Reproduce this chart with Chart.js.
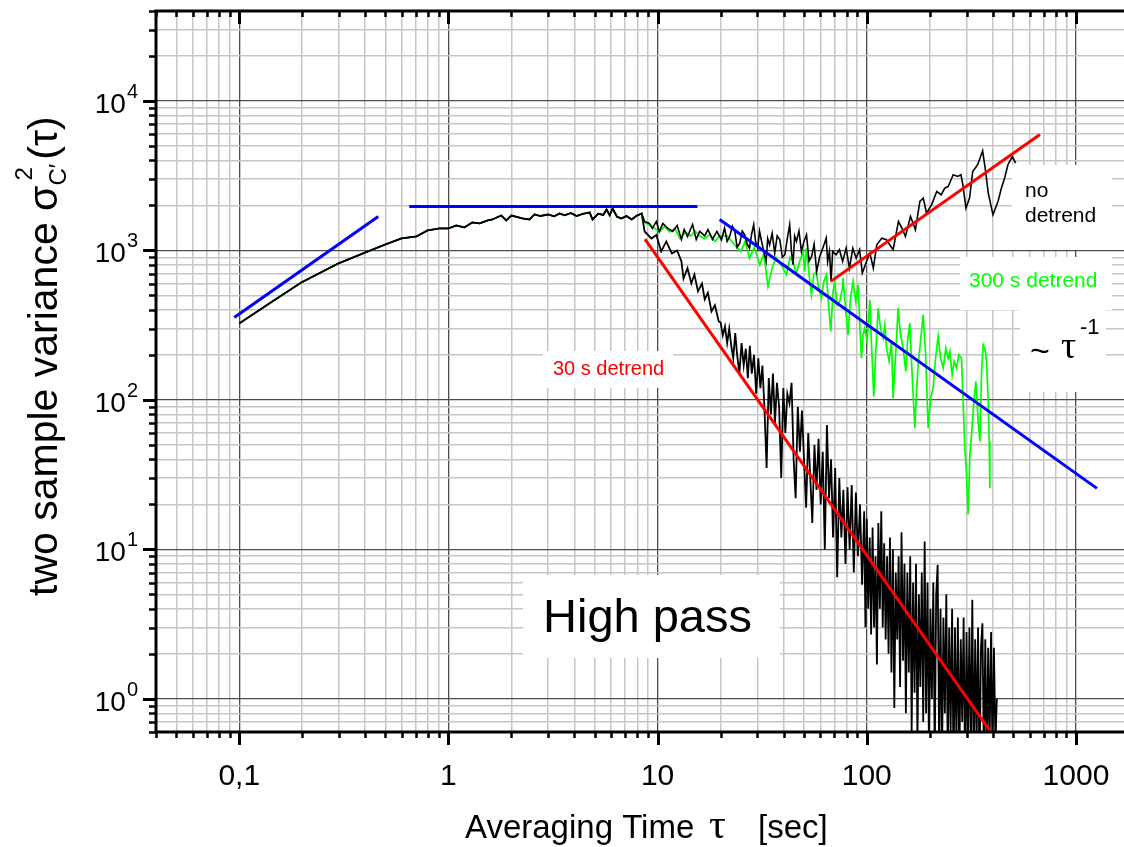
<!DOCTYPE html>
<html>
<head>
<meta charset="utf-8">
<script src="https://cdn.jsdelivr.net/npm/chart.js@4.4.1/dist/chart.umd.min.js"></script>
<style>
html,body{margin:0;padding:0;background:#fff;overflow:hidden;}
#wrap{width:1124px;height:847px;position:relative;}
</style>
</head>
<body>
<div id="wrap"><canvas id="c" width="1124" height="847"></canvas></div>
<script>
// ---------- DATA (tau in s, two-sample variance) ----------
// common part shared by all three curves
const tauCommon = [0.1,0.144,0.198,0.298,0.401,0.5,0.596,0.703,0.794,0.906,1.0,1.09,1.19,1.30,1.41,1.54,1.62,1.79,1.89,2.0,2.26,2.44,2.58,2.75,3.0,3.2,3.4,3.6,3.85,4.1,4.4,4.73,4.89,5.2,5.5,5.7,5.9,6.09,6.4,6.71,7.1,7.52,7.9,8.39];
const varCommon = [325,456,611,819,970,1097,1203,1240,1361,1403,1403,1469,1426,1539,1516,1588,1611,1713,1588,1713,1637,1611,1741,1700,1740,1690,1766,1720,1780,1700,1760,1795,1611,1760,1730,1880,1720,1909,1680,1637,1700,1611,1700,1766];

// "no detrend" continuation
const tauNoDetrend = [8.67,9.14,9.44,9.86,10.2,10.6,11.2,11.8,12.4,13.0,13.4,13.9,14.7,15.3,15.9,16.8,17.4,18.3,19.2,20.2,20.9,21.5,22.1,22.8,23.4,24.0,24.7,25.4,26.1,26.8,27.5,28.2,28.8,29.4,30.1,30.7,31.3,32.1,33.0,33.6,34.3,35.3,36.3,37.3,38.4,39.5,40.6,41.7,42.8,43.6,44.4,45.2,46.1,47.4,48.7,50.1,51.5,53.0,54.5,56.0,57.6,59.6,61.6,64.0,65.0,66.3,67.5,68.7,71.3,74.0,76.7,79.7,82.6,85.8,89.0,92.4,95.2,99.7,103.5,107.5,111.6,118,124,133.7,141.7,147.3,153,161.8,170.8,179.4,186.3,193,204,216,227,236,245,259,272,282,288,298,310,321,339,358,370,381,401,424,440,456,473,496,515];
const varNoDetrend = [1563,1516,1403,1563,1340,1516,1403,1340,1470,1185,1381,1240,1493,1185,1340,1250,1381,1185,1340,1179,1410,1150,1240,1450,1340,1050,1119,1350,1273,1100,1036,1300,1486,1150,1036,1350,1179,1000,844,1200,1091,1300,959,1250,1179,900,936,1200,1486,1000,802,1250,1149,1350,985,1150,1273,850,912,1100,724,912,1036,1209,844,985,621,985,936,1011,844,1036,761,1036,888,1011,705,844,959,761,1091,1209,1179,1011,1563,1410,1240,1688,1375,2127,2240,1776,2020,2480,2360,2610,2680,3210,3125,3210,2750,1919,2240,3375,3745,4640,3375,2420,1732,2127,2610,3050,3745,4250,3835];

// "300 s detrend" continuation
const tau300 = [8.67,9.14,9.6,10.2,10.8,11.4,12.1,12.8,13.6,14.4,15.1,15.9,16.8,17.8,18.8,19.8,21.5,23.7,25.0,26.2,27.5,29.0,30.8,32.2,33.7,35.3,36.8,38.5,40.0,41.3,43.0,44.4,46.0,47.8,49.6,50.5,51.5,53.0,54.4,55.8,57.4,58.5,60.7,62.3,64.2,65.8,67.3,69.0,70.3,72.1,74.3,76.5,77.0,79.4,81.4,83.6,86.0,88.6,90.9,92.6,94.3,96.0,97.8,100.3,103.4,105.7,108.0,110.4,113.3,116.3,119.7,122.0,124.3,127.9,131.3,133.6,137.7,141.2,145.0,149.2,153.7,156.6,160.6,164.2,167.9,169.7,172.9,176.0,180.7,186.0,190.9,196.5,201.8,207.6,213.2,219.4,225.3,231.8,238.8,244.9,249.5,255.9,261.6,268.6,275.5,283.8,288.9,294.3,299.9,305.3,311.1,316.9,325.1,332.3,340.8,347.3,353.9,360.2,367.0,373.9,380.6,384.8,387.7];
const var300 = [1540,1480,1420,1330,1450,1330,1400,1200,1330,1250,1350,1250,1200,1280,1150,1250,1250,1064,985,1150,888,1050,802,950,574,761,900,823,750,688,900,844,700,844,985,724,1037,688,505,688,724,589,480,620,688,411,287,532,620,433,456,560,653,391,273,480,620,456,589,318,190,273,302,246,468,211,105.5,211,411,302,259,318,222,181,246,102.8,211,411,273,222,155,246,327,163,88,64.8,114,172,246,371,211,64.8,102.8,120,190,266,190,163,222,190,211,147,181,163,201,190,97.7,47.6,31.6,17.1,43.0,58.5,97.7,133,71.8,52.8,155,234,222,181,97.7,52.8,25.7];

// "30 s detrend" continuation
const tau30 = [8.67,9.34,9.86,10.4,11.0,11.7,12.4,13.0,13.3,13.9,14.5,15.0,15.6,16.3,16.8,17.4,18.1,18.8,19.6,20,20.5,21,21.5,22,22.5,23,23.5,24,24.6,25.2,25.8,26.4,27,27.6,28.2,28.9,29.6,30.3,31,31.7,32.4,33.2,34,34.8,35.6,36.4,37.2,38.1,39,39.9,40.8,41.7,42.7,43.7,44.7,45.7,46.8,47.9,49,50.1,51.3,52.5,53.7,54.9,56.2,57.5,58.8,60.2,61.6,63,64.5,66,67.5,69,70.6,72.2,73.9,75.6,77.3,79.1,80.9,82.8,84.7,86.7,88.7,90.7,92.8,95,97.2,98.5,
  100,101.6,103.3,104.9,106.6,108.3,110.1,111.8,113.6,115.5,117.3,119.2,121.1,123.1,125.1,127.1,129.1,131.2,133.3,135.4,137.6,139.8,142.0,144.3,146.6,149.0,151.4,153.8,156.3,158.8,161.3,163.9,166.5,169.2,171.9,174.7,177.5,180.3,183.2,186.1,189.1,192.1,195.2,198.3,201.5,204.7,208.0,211.3,214.7,218.2,221.7,225.2,228.8,232.5,236.2,240.0,243.9,247.8,251.7,255.8,259.9,264.0,268.3,272.6,276.9,281.4,285.9,290.4,295.1,299.8,304.6,309.5,314.5,319.5,324.6,329.8,335.1,340.5,345.9,351.5,357.1,362.8,368.6,374.5,380.5,386.6,392.8,399.1,405.5,412.0,418.6];
const var30 = [1340,1203,1270,985,1148,955,1000,844,649,760,602,690,532,600,470,520,391,430,335,330,270,310,240,300,230,190,280,200,150,240,170,220,140,230,150,200,110,190,120,170,90,35,140,80,150,70,130,90,30,120,60,110,95,130,40,22,90,45,85,40,19,60,30,15,50,25,55,20,45,10,68,22,40,12,35,6.5,30,12,25,8,26,10,27,7,24,9,20,5.8,18,3,
  16,4,12,2.7,14,3,9,1.7,15,4,18,3,11,2.5,9,2,12,1.5,10,0.87,7,2.5,9,1.2,13,1.8,8,0.8,7,1.5,9,0.6,6,1.1,8,0.5,5,1.2,7,0.7,11.3,0.8,6,0.45,4,1.0,6,0.4,5,7.9,0.5,4,0.35,3.5,0.8,5,0.4,3,0.6,4,0.3,3,0.5,3.5,0.35,2.5,0.7,3.5,0.3,2.8,0.5,3,0.4,4.6,0.35,2.5,0.5,3,0.3,2.2,3.2,0.4,2.5,0.35,2.2,0.5,2.8,0.4,2.2,0.5,1.0];

// fitted power-law guide lines (endpoints)
const fitBlueRiseTau = [0.0946,0.462];   const fitBlueRiseVar = [356,1688];
const fitBlueFlatTau = [0.65,15.5];      const fitBlueFlatVar = [1970,1970];
const fitBlueFallTau = [19.8,1260];      const fitBlueFallVar = [1611,25.6];
const fitRed30Tau    = [8.7,395];        const fitRed30Var    = [1190,0.59];
const fitRedNoTau    = [67.3,673];       const fitRedNoVar    = [621,5970];

// axis ticks
const xMajorTicks = [0.1,1,10,100,1000];
const xTickLabels = ['0,1','1','10','100','1000'];
const yMajorTicks = [1,10,100,1000,10000];
const yTickExps   = ['0','1','2','3','4'];
const X_MIN = 0.04, X_MAX = 1697, Y_MIN = 0.6, Y_MAX = 40000;

// ---------- helpers ----------
function pts(t, v){ return t.map((x,i)=>({x:x, y:v[i]})); }
function minorValues(min, max){
  const out=[];
  for(let e=-3;e<=6;e++){
    for(let m=1;m<=9;m++){
      const v = parseFloat((m*Math.pow(10,e)).toPrecision(6));
      if(v>=min*0.9999 && v<=max*1.0001) out.push(v);
    }
  }
  return out;
}
function isMajor(v){ const l=Math.log10(v); return Math.abs(l-Math.round(l))<1e-6; }

const SANS = '"Liberation Sans", Arial, sans-serif';

const decor = {
  id:'decor',
  beforeDatasetsDraw(chart){
    const ctx = chart.ctx;
    ctx.save();
    ctx.fillStyle = '#fff';
    const boxes = [[523,575,257,83],[543,351,130,37],[960,257,152,53],[1012,165,100,85],[1020,310,86,82]];
    boxes.forEach(b=>ctx.fillRect(b[0],b[1],b[2],b[3]));
    ctx.restore();
  },
  afterDatasetsDraw(chart){
    const ctx = chart.ctx, xs = chart.scales.x, ys = chart.scales.y, a = chart.chartArea;
    ctx.save();
    ctx.strokeStyle = '#000'; ctx.fillStyle = '#000';
    // axis lines
    ctx.lineWidth = 3;
    ctx.beginPath();
    ctx.moveTo(a.left, a.top); ctx.lineTo(a.right+5, a.top);
    ctx.moveTo(a.left, a.top-1.5); ctx.lineTo(a.left, a.bottom+1.5);
    ctx.moveTo(a.left-1.5, a.bottom); ctx.lineTo(a.right+5, a.bottom);
    ctx.stroke();
    // x ticks (top inward, bottom outward)
    minorValues(X_MIN, X_MAX).forEach(v=>{
      const px = Math.round(xs.getPixelForValue(v))+0.5;
      const maj = isMajor(v);
      ctx.lineWidth = maj ? 3 : 2.5;
      ctx.beginPath();
      ctx.moveTo(px, a.top); ctx.lineTo(px, a.top + (maj?13:6));
      ctx.moveTo(px, a.bottom); ctx.lineTo(px, a.bottom + (maj?13:6));
      ctx.stroke();
    });
    // y ticks (left outward)
    minorValues(Y_MIN, Y_MAX).forEach(v=>{
      const py = Math.round(ys.getPixelForValue(v))+0.5;
      const maj = isMajor(v);
      ctx.lineWidth = maj ? 3 : 2.5;
      ctx.beginPath();
      ctx.moveTo(a.left, py); ctx.lineTo(a.left - (maj?13:7), py);
      ctx.stroke();
    });
    // x tick labels
    ctx.font = '30px ' + SANS; ctx.textAlign = 'center'; ctx.textBaseline = 'alphabetic';
    xMajorTicks.forEach((v,i)=>{ ctx.fillText(xTickLabels[i], xs.getPixelForValue(v), 785); });
    // y tick labels 10^n
    yMajorTicks.forEach((v,i)=>{
      const py = ys.getPixelForValue(v);
      ctx.font = '20px ' + SANS; ctx.textAlign='left';
      const ew = ctx.measureText(yTickExps[i]).width;
      const right = 138;
      ctx.fillText(yTickExps[i], right-ew, py-3);
      ctx.font = '28px ' + SANS; ctx.textAlign='right';
      ctx.fillText('10', right-ew-1, py+12);
    });
    // x title
    ctx.textAlign='left';
    ctx.font = '33px ' + SANS;
    ctx.fillText('Averaging Time', 465, 838);
    ctx.font = '42px "Liberation Serif", serif';
    ctx.fillText('τ', 709, 838);
    ctx.font = '33px ' + SANS;
    ctx.fillText('[sec]', 758, 838);
    // y title
    ctx.save();
    ctx.translate(57, 596); ctx.rotate(-Math.PI/2);
    ctx.font = '41px ' + SANS; ctx.textAlign='left';
    let w = 0;
    const t1 = 'two sample variance ';
    ctx.fillText(t1, 0, 0); w += ctx.measureText(t1).width;
    ctx.fillText('σ', w, 0); w += ctx.measureText('σ').width;
    ctx.font = '24px ' + SANS;
    ctx.fillText('C′', w, 9);
    ctx.fillText('2', w+5, -25);
    w += ctx.measureText('C′').width + 4;
    ctx.font = '41px ' + SANS;
    ctx.fillText('(τ)', w, 0);
    ctx.restore();
    // annotations
    ctx.fillStyle = '#000'; ctx.font = '47px ' + SANS;
    ctx.fillText('High pass', 543, 632);
    ctx.fillStyle = '#ff0000'; ctx.font = '20px ' + SANS;
    ctx.fillText('30 s detrend', 553, 375);
    ctx.fillStyle = '#00ff00'; ctx.font = '21px ' + SANS;
    ctx.fillText('300 s detrend', 969, 287);
    ctx.fillStyle = '#000'; ctx.font = '21px ' + SANS;
    ctx.fillText('no', 1025, 197);
    ctx.fillText('detrend', 1025, 222);
    ctx.font = '34px ' + SANS;
    ctx.fillText('~', 1030, 362);
    ctx.font = '38px "Liberation Serif", serif';
    ctx.fillText('τ', 1061, 358);
    ctx.font = '22px ' + SANS;
    ctx.fillText('-1', 1080, 334);
    ctx.restore();
  }
};

const lineDs = (label, data, color, width, order) => ({
  label, data, borderColor: color, backgroundColor: color, borderWidth: width,
  pointRadius: 0, tension: 0, fill: false, order
});

const chart = new Chart(document.getElementById('c'), {
  type: 'line',
  data: {
    datasets: [
      lineDs('fit rise', pts(fitBlueRiseTau, fitBlueRiseVar), '#0000ff', 3, 0),
      lineDs('fit flat', pts(fitBlueFlatTau, fitBlueFlatVar), '#0000ff', 3, 0),
      lineDs('fit tau^-1', pts(fitBlueFallTau, fitBlueFallVar), '#0000ff', 3, 0),
      lineDs('fit 30 s', pts(fitRed30Tau, fitRed30Var), '#ff0000', 3, 0),
      lineDs('fit no detrend', pts(fitRedNoTau, fitRedNoVar), '#ff0000', 3, 0),
      lineDs('no detrend', pts(tauCommon.concat(tauNoDetrend), varCommon.concat(varNoDetrend)), '#000000', 1.6, 1),
      lineDs('30 s detrend', pts(tauCommon.concat(tau30), varCommon.concat(var30)), '#000000', 1.8, 2),
      lineDs('300 s detrend', pts(tauCommon.concat(tau300), varCommon.concat(var300)), '#00ff00', 1.7, 3)
    ]
  },
  options: {
    responsive: false,
    animation: false,
    devicePixelRatio: 1,
    layout: { padding: { top: 11, right: 0, left: 0, bottom: 0 } },
    plugins: { legend: { display: false }, tooltip: { enabled: false } },
    scales: {
      x: {
        type: 'logarithmic', min: X_MIN, max: X_MAX,
        afterBuildTicks: s => { s.ticks = minorValues(X_MIN, X_MAX).map(v=>({value:v})); },
        afterFit: s => { s.height = 115; },
        ticks: { display: false },
        border: { display: false },
        grid: {
          drawTicks: false,
          color: c => isMajor(c.tick.value) ? '#4d4d4d' : '#c6c6c6',
          lineWidth: c => isMajor(c.tick.value) ? 1.3 : 1.5
        }
      },
      y: {
        type: 'logarithmic', min: Y_MIN, max: Y_MAX,
        afterBuildTicks: s => { s.ticks = minorValues(Y_MIN, Y_MAX).map(v=>({value:v})); },
        afterFit: s => { s.width = 156; },
        ticks: { display: false },
        border: { display: false },
        grid: {
          drawTicks: false,
          color: c => isMajor(c.tick.value) ? '#4d4d4d' : '#c6c6c6',
          lineWidth: c => isMajor(c.tick.value) ? 1.3 : 1.5
        }
      }
    }
  },
  plugins: [decor]
});
</script>
</body>
</html>
